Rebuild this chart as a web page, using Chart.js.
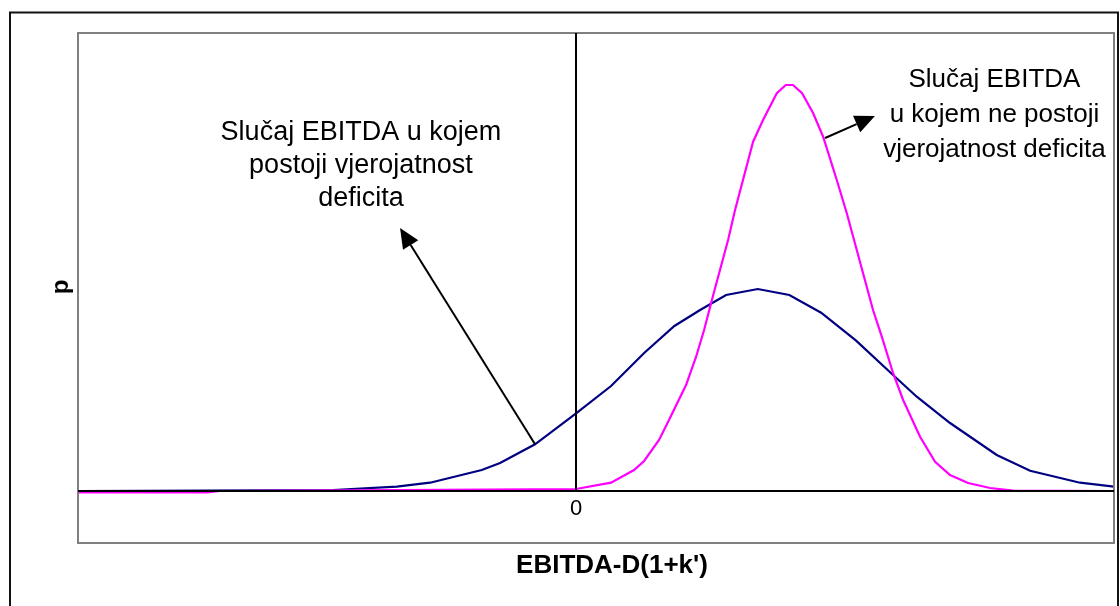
<!DOCTYPE html>
<html><head><meta charset="utf-8">
<script src="https://cdn.jsdelivr.net/npm/chart.js@4"></script>
<style>html,body{margin:0;padding:0;background:#fff}canvas{display:block}</style>
</head><body>
<canvas id="c" width="1120" height="606"></canvas>
<script>
// x values: EBITDA-D(1+k'), p values: probability density
const magentaX = [-50, -37.04, -35.74, 0, 3.51, 5.82, 6.83, 8.33, 9.24, 11.04, 12.05, 12.85, 13.72, 15.26, 15.96, 17.77, 18.77, 20.15, 21.05, 21.78, 22.69, 23.79, 24.8, 26.17, 27.17, 29.81, 30.69, 31.82, 32.83, 34.53, 36.04, 37.54, 39.35, 41.56, 43.87, 54];
const magentaP = [-0.015, -0.015, 0, 0.02, 0.083, 0.21, 0.30, 0.51, 0.693, 1.06, 1.343, 1.61, 1.943, 2.51, 2.81, 3.493, 3.71, 3.977, 4.06, 4.06, 3.977, 3.78, 3.543, 3.11, 2.78, 1.81, 1.543, 1.18, 0.91, 0.543, 0.293, 0.16, 0.08, 0.03, 0.003, 0];
const blueX = [-50, -24.39, -18.0, -14.66, -9.47, -7.63, -4.12, 0, 3.51, 6.86, 9.87, 12.45, 15.06, 18.24, 21.41, 24.6, 28.11, 31.82, 34.2, 37.54, 42.23, 45.58, 50.59, 54];
const blueP = [0, 0.01, 0.043, 0.083, 0.21, 0.28, 0.467, 0.777, 1.05, 1.383, 1.65, 1.81, 1.96, 2.02, 1.96, 1.783, 1.503, 1.16, 0.943, 0.68, 0.36, 0.203, 0.083, 0.043];
const xTickValues = [0];
const xTickLabels = ['0'];
const xTitle = "EBITDA-D(1+k')";
const yTitle = 'p';
const noteLeft = ['Slučaj EBITDA u kojem', 'postoji vjerojatnost', 'deficita'];
const noteRight = ['Slučaj EBITDA', 'u kojem ne postoji', 'vjerojatnost deficita'];
// annotation anchors in data units: [x, p]
const noteLeftAt = [-21.6, 3.58];
const noteRightAt = [42.0, 4.11];
const arrowLeft = [[-4.12, 0.467], [-17.67, 2.63]];
const arrowRight = [[25.0, 3.53], [30.0, 3.75]];

const FONT = '"Liberation Sans", Arial, sans-serif';

function arrow(ctx, x1, y1, x2, y2) {
  const ang = Math.atan2(y2 - y1, x2 - x1);
  const len = 20, hw = 9;
  const bx = x2 - len * Math.cos(ang), by = y2 - len * Math.sin(ang);
  ctx.beginPath();
  ctx.moveTo(x1, y1); ctx.lineTo(bx, by);
  ctx.lineWidth = 2; ctx.strokeStyle = '#000'; ctx.stroke();
  ctx.beginPath();
  ctx.moveTo(x2, y2);
  ctx.lineTo(bx + hw * Math.sin(ang), by - hw * Math.cos(ang));
  ctx.lineTo(bx - hw * Math.sin(ang), by + hw * Math.cos(ang));
  ctx.closePath(); ctx.fillStyle = '#000'; ctx.fill();
}

const decor = {
  id: 'decor',
  afterDatasetsDraw(chart) {
    const ctx = chart.ctx, xs = chart.scales.x, ys = chart.scales.y;
    const {left, top, right, bottom} = chart.chartArea;
    ctx.save();
    // outer frame
    ctx.lineWidth = 2; ctx.strokeStyle = '#111';
    ctx.strokeRect(10, 12.5, 1108, 610);
    // plot frame
    ctx.strokeStyle = '#808080';
    ctx.strokeRect(left, top, right - left, bottom - top);
    // axes at zero
    const y0 = ys.getPixelForValue(0);
    ctx.strokeStyle = '#000'; ctx.lineWidth = 2;
    ctx.beginPath(); ctx.moveTo(left, y0); ctx.lineTo(right, y0); ctx.stroke();
    xTickValues.forEach((v, i) => {
      const xp = Math.round(xs.getPixelForValue(v));
      ctx.beginPath(); ctx.moveTo(xp, top); ctx.lineTo(xp, y0); ctx.stroke();
      ctx.fillStyle = '#000'; ctx.font = '22px ' + FONT;
      ctx.textAlign = 'center'; ctx.textBaseline = 'middle';
      ctx.fillText(xTickLabels[i], xp, y0 + 18);
    });
    // titles
    ctx.font = 'bold 26px ' + FONT;
    ctx.textAlign = 'center'; ctx.textBaseline = 'middle';
    ctx.fillText(xTitle, 612, 566);
    ctx.save();
    ctx.translate(61, 287); ctx.rotate(-Math.PI / 2);
    ctx.font = 'bold 24px ' + FONT;
    ctx.fillText(yTitle, 0, 0);
    ctx.restore();
    // notes
    ctx.font = '27px ' + FONT;
    const lx = xs.getPixelForValue(noteLeftAt[0]), ly = ys.getPixelForValue(noteLeftAt[1]);
    noteLeft.forEach((t, i) => ctx.fillText(t, lx, ly + i * 33));
    ctx.font = '26px ' + FONT;
    const rx = xs.getPixelForValue(noteRightAt[0]), ry = ys.getPixelForValue(noteRightAt[1]);
    noteRight.forEach((t, i) => ctx.fillText(t, rx, ry + i * 35));
    // arrows
    [arrowLeft, arrowRight].forEach(a => {
      arrow(ctx, xs.getPixelForValue(a[0][0]), ys.getPixelForValue(a[0][1]),
                 xs.getPixelForValue(a[1][0]), ys.getPixelForValue(a[1][1]));
    });
    ctx.restore();
  }
};

new Chart(document.getElementById('c'), {
  type: 'scatter',
  data: {
    datasets: [
      { label: 'magenta', data: magentaX.map((x, i) => ({x, y: magentaP[i]})),
        showLine: true, borderColor: '#FF00FF', borderWidth: 2.2, pointRadius: 0, tension: 0 },
      { label: 'blue', data: blueX.map((x, i) => ({x, y: blueP[i]})),
        showLine: true, borderColor: '#000080', borderWidth: 2.2, pointRadius: 0, tension: 0 }
    ]
  },
  options: {
    responsive: false, animation: false,
    layout: { padding: { left: 78, top: 33, right: 6, bottom: 63 } },
    scales: {
      x: { type: 'linear', min: -50, max: 54, display: false },
      y: { type: 'linear', min: -0.52, max: 4.58, display: false }
    },
    plugins: { legend: { display: false }, tooltip: { enabled: false } }
  },
  plugins: [decor]
});
</script>
</body></html>
